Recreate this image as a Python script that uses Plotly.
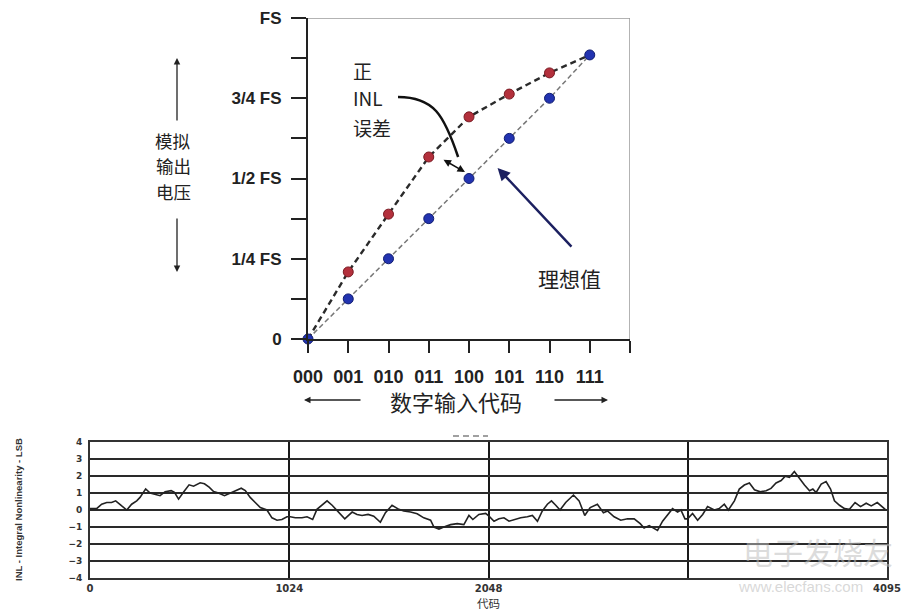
import plotly.graph_objects as go

# ---------------- data ----------------
codes = ["000", "001", "010", "011", "100", "101", "110", "111"]
ideal_fs = [0, 0.125, 0.25, 0.375, 0.5, 0.625, 0.75, 0.885]
actual_fs = [0, 0.209, 0.389, 0.567, 0.692, 0.763, 0.829, 0.885]
fs_tick_vals = [0, 0.125, 0.25, 0.375, 0.5, 0.625, 0.75, 0.875, 1.0]
fs_tick_text = ["0", "", "1/4 FS", "", "1/2 FS", "", "3/4 FS", "", "FS"]

inl_code = [0, 34, 60, 86, 111, 132, 163, 189, 214, 240, 257, 286, 309, 334, 360, 386, 417, 434, 455, 480,
            509, 532, 566, 588, 612, 635, 660, 691, 720, 746, 777, 798, 823, 849, 875, 909, 935, 961, 986, 1012,
            1029, 1055, 1089, 1115, 1144, 1166, 1192, 1218, 1244, 1278, 1309, 1347, 1372, 1398, 1429, 1458,
            1492, 1518, 1552, 1587, 1612, 1647, 1681, 1715, 1750, 1767, 1793, 1818, 1853, 1887, 1921, 1947,
            1967, 1998, 2033,
            2050, 2076, 2101, 2127, 2153, 2178, 2213, 2247, 2273, 2299, 2324, 2350, 2371, 2393, 2415, 2444,
            2484, 2513, 2542, 2570, 2607, 2638, 2659, 2693, 2727, 2762, 2796, 2827, 2847, 2873, 2899, 2916,
            2942, 2964, 2993, 3019, 3036, 3057,
            3070, 3096, 3122, 3148, 3173, 3208, 3233, 3259, 3280, 3311, 3336, 3362, 3388, 3414, 3444, 3474,
            3499, 3525, 3551, 3571, 3594, 3619, 3645, 3671, 3697, 3714, 3731, 3757, 3782, 3805, 3825, 3851,
            3877, 3902, 3931, 3959, 3988, 4014, 4045, 4065, 4086]
inl_lsb = [0.08, 0.08, 0.34, 0.44, 0.44, 0.54, 0.24, 0.0, 0.34, 0.54, 0.74, 1.24, 1.0, 0.94, 0.84, 1.08, 1.14,
           1.04, 0.64, 1.04, 1.48, 1.4, 1.6, 1.54, 1.34, 1.08, 1.0, 0.84, 1.0, 1.14, 1.28, 1.14, 0.74, 0.44,
           0.14, 0.0, -0.46, -0.6, -0.56, -0.4,
           -0.4, -0.46, -0.46, -0.4, -0.56, 0.04, 0.28, 0.54, 0.28, -0.12, -0.52, -0.12, -0.26, -0.32, -0.26,
           -0.36, -0.72, -0.16, 0.28, 0.04, -0.06, -0.12, -0.22, -0.46, -0.6, -1.0, -1.12, -1.0, -0.86, -0.8,
           -0.86, -0.32, -0.56, -0.26, -0.2,
           -0.36, -0.66, -0.52, -0.46, -0.66, -0.56, -0.46, -0.4, -0.32, -0.66, -0.06, 0.34, 0.54, 0.28, 0.0,
           0.44, 0.88, 0.54, -0.32, 0.14, 0.34, -0.16, -0.06, -0.4, -0.6, -0.52, -0.52, -0.8, -1.06, -0.92,
           -1.12, -1.2, -0.66, -0.36, 0.08, -0.12, 0.0, -0.52,
           -0.52, -0.2, -0.6, -0.26, 0.2, 0.0, 0.08, 0.34, 0.0, 0.54, 1.23, 1.47, 1.59, 1.19, 1.07, 1.13,
           1.27, 1.59, 1.73, 1.98, 1.92, 2.26, 1.83, 1.47, 1.13, 1.23, 1.03, 1.53, 1.67, 1.23, 0.54, 0.28,
           0.08, 0.04, 0.44, 0.2, 0.4, 0.24, 0.44, 0.24, 0.04]
inl_x_ticks = [0, 1024, 2048, 3072, 4095]
inl_x_text = ["0", "1024", "2048", "", "4095"]
inl_y_ticks = [-4, -3, -2, -1, 0, 1, 2, 3, 4]

# ---------------- helpers (layout positions) ----------------
W, H = 921, 612


def PX(px):
    return px / W


def PY(py):
    return 1 - py / H


SANS = "Liberation Sans, Arial, sans-serif"
CJK = "Noto Sans CJK SC, sans-serif"

x_idx = list(range(len(codes)))

fig = go.Figure()

# ideal line (grey, thin dashed)
fig.add_trace(go.Scatter(
    x=x_idx, y=ideal_fs, mode="lines", xaxis="x", yaxis="y",
    line=dict(color="#777777", width=1.5, dash="5px,3px"), cliponaxis=False, showlegend=False))
# actual line (dark, dashed)
fig.add_trace(go.Scatter(
    x=x_idx, y=actual_fs, mode="lines", xaxis="x", yaxis="y",
    line=dict(color="#2a2a2a", width=2.4, dash="6px,4px"), cliponaxis=False, showlegend=False))
# actual markers (red)
fig.add_trace(go.Scatter(
    x=x_idx[1:-1], y=actual_fs[1:-1], mode="markers", xaxis="x", yaxis="y",
    marker=dict(size=10, color="#b3303c", line=dict(color="#7a1a22", width=1)),
    cliponaxis=False, showlegend=False))
# ideal markers (blue)
fig.add_trace(go.Scatter(
    x=x_idx, y=ideal_fs, mode="markers", xaxis="x", yaxis="y",
    marker=dict(size=10, color="#2233b0", line=dict(color="#101c70", width=1)),
    cliponaxis=False, showlegend=False))

# INL curve
fig.add_trace(go.Scatter(
    x=inl_code, y=inl_lsb, mode="lines", xaxis="x2", yaxis="y2",
    line=dict(color="#222222", width=1.6), showlegend=False))

annotations = []
shapes = []

# --- top chart annotations ---
for txt, py in [("正", 70), ("INL", 98), ("误差", 127)]:
    annotations.append(dict(text=txt, xref="paper", yref="paper", x=PX(351), y=PY(py),
                            xanchor="left", yanchor="middle", showarrow=False,
                            font=dict(family=CJK, size=19, color="#222222")))
annotations.append(dict(text="理想值", xref="paper", yref="paper", x=PX(569), y=PY(278),
                        xanchor="center", yanchor="middle", showarrow=False,
                        font=dict(family=CJK, size=21, color="#222222")))

# curved connector from "INL" text
shapes.append(dict(type="path", xref="x", yref="y",
                   path="M 2.236,0.754 C 3.13,0.754 3.38,0.698 3.73,0.567",
                   line=dict(color="#111111", width=2.5)))
# double-headed arrow between actual and ideal
annotations.append(dict(text="", x=3.90, y=0.520, ax=3.33, ay=0.561, xref="x", yref="y",
                        axref="x", ayref="y", showarrow=True, arrowhead=2, startarrowhead=2,
                        arrowside="end+start", arrowsize=1, startarrowsize=1, arrowwidth=1.5,
                        arrowcolor="#111111"))
# arrow to ideal line
annotations.append(dict(text="", x=4.71, y=0.533, ax=6.58, ay=0.283, xref="x", yref="y",
                        axref="x", ayref="y", showarrow=True, arrowhead=2, arrowsize=1,
                        arrowwidth=2.5, arrowcolor="#1c2060"))

# left axis title (vertical, stacked)
for txt, py in [("模拟", 140.5), ("输出", 166), ("电压", 191.5)]:
    annotations.append(dict(text=txt, xref="paper", yref="paper", x=PX(173), y=PY(py),
                            xanchor="center", yanchor="middle", showarrow=False,
                            font=dict(family=CJK, size=17.5, color="#222222")))
annotations.append(dict(text="", xref="paper", yref="paper", x=PX(177), y=PY(58),
                        ax=0, ay=64, axref="pixel", ayref="pixel", showarrow=True,
                        arrowhead=2, arrowsize=1, arrowwidth=1.3, arrowcolor="#222222"))
annotations.append(dict(text="", xref="paper", yref="paper", x=PX(177), y=PY(272),
                        ax=0, ay=-55, axref="pixel", ayref="pixel", showarrow=True,
                        arrowhead=2, arrowsize=1, arrowwidth=1.3, arrowcolor="#222222"))

# bottom axis title with arrows
annotations.append(dict(text="数字输入代码", xref="paper", yref="paper", x=PX(456), y=PY(401),
                        xanchor="center", yanchor="middle", showarrow=False,
                        font=dict(family=CJK, size=22, color="#222222")))
annotations.append(dict(text="", xref="paper", yref="paper", x=PX(304), y=PY(400),
                        ax=58, ay=0, axref="pixel", ayref="pixel", showarrow=True,
                        arrowhead=2, arrowsize=1, arrowwidth=1.3, arrowcolor="#222222"))
annotations.append(dict(text="", xref="paper", yref="paper", x=PX(608), y=PY(400),
                        ax=-55, ay=0, axref="pixel", ayref="pixel", showarrow=True,
                        arrowhead=2, arrowsize=1, arrowwidth=1.3, arrowcolor="#222222"))

# top chart grey top/right border
shapes.append(dict(type="line", xref="x", yref="y", x0=0, x1=8, y0=1, y1=1,
                   line=dict(color="#9a9a9a", width=1.5)))
shapes.append(dict(type="line", xref="x", yref="y", x0=8, x1=8, y0=0, y1=1,
                   line=dict(color="#9a9a9a", width=1.5)))

# small dashes above the lower chart
shapes.append(dict(type="line", xref="paper", yref="paper", x0=PX(453), x1=PX(488),
                   y0=PY(436), y1=PY(436), line=dict(color="#a0a0a0", width=2, dash="6px,4px")))

# --- bottom chart labels ---
annotations.append(dict(text="INL - Integral Nonlinearity - LSB", xref="paper", yref="paper",
                        x=PX(18), y=PY(510), textangle=-90, showarrow=False,
                        xanchor="center", yanchor="middle",
                        font=dict(family=SANS, size=9.5, color="#333333", weight="bold")))
annotations.append(dict(text="代码", xref="paper", yref="paper", x=PX(488), y=PY(602.5),
                        xanchor="center", yanchor="middle", showarrow=False,
                        font=dict(family=CJK, size=11.5, color="#333333")))

# faint site watermark
annotations.append(dict(text="电子发烧友", xref="paper", yref="paper", x=PX(818), y=PY(551),
                        xanchor="center", yanchor="middle", showarrow=False,
                        font=dict(family=CJK, size=30, color="rgba(190,190,190,0.55)")))
annotations.append(dict(text="www.elecfans.com", xref="paper", yref="paper", x=PX(800), y=PY(586),
                        xanchor="center", yanchor="middle", showarrow=False,
                        font=dict(family=SANS, size=15, color="rgba(190,190,190,0.6)")))

fig.update_layout(
    width=W, height=H, autosize=False,
    margin=dict(l=0, r=0, t=0, b=0, pad=0, autoexpand=False),
    paper_bgcolor="white", plot_bgcolor="white",
    showlegend=False,
    xaxis=dict(domain=[PX(308), PX(630)], range=[0, 8], anchor="y", automargin=False,
               tickvals=list(range(9)), ticktext=codes + [""],
               ticks="outside", ticklen=12, tickwidth=1.5, tickcolor="#222222",
               showline=True, linecolor="#222222", linewidth=2,
               showgrid=False, zeroline=False, ticklabelstandoff=8,
               tickfont=dict(family=SANS, size=18, color="#222222", weight="bold")),
    yaxis=dict(domain=[PY(339), PY(18)], range=[0, 1], anchor="x", automargin=False,
               tickvals=fs_tick_vals, ticktext=fs_tick_text,
               ticks="outside", ticklen=15, tickwidth=1.5, tickcolor="#222222",
               showline=True, linecolor="#222222", linewidth=2,
               showgrid=False, zeroline=False, ticklabelstandoff=6,
               tickfont=dict(family=SANS, size=17, color="#222222", weight="bold")),
    xaxis2=dict(domain=[PX(90), PX(887)], range=[0, 4095], anchor="y2", automargin=False,
                tickvals=inl_x_ticks, ticktext=inl_x_text, ticks="",
                showline=True, mirror=True, linecolor="#333333", linewidth=2,
                showgrid=True, gridcolor="#1a1a1a", gridwidth=2, zeroline=False,
                tickfont=dict(family="DejaVu Sans", size=10, color="#333333", weight="bold")),
    yaxis2=dict(domain=[PY(578), PY(442)], range=[-4, 4], anchor="x2", automargin=False,
                tickvals=inl_y_ticks, ticks="",
                showline=True, mirror=True, linecolor="#333333", linewidth=2,
                showgrid=True, gridcolor="#2a2a2a", gridwidth=2, zeroline=False,
                ticklabelstandoff=4,
                tickfont=dict(family="DejaVu Sans", size=9, color="#333333", weight="bold")),
    annotations=annotations,
    shapes=shapes,
)

fig.write_html("out.html")
